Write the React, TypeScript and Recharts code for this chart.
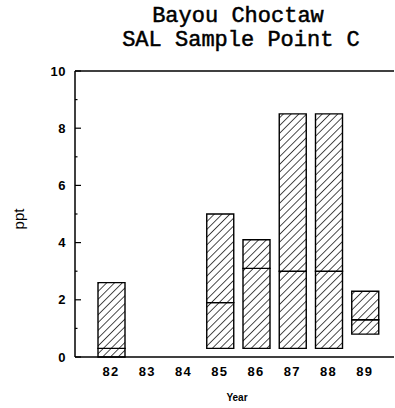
import React from 'react'
import {
  ComposedChart,
  Bar,
  XAxis,
  YAxis,
  ReferenceLine,
} from 'recharts'

// salinity range per year (ppt): minimum, mean, maximum
const years = ['82', '83', '84', '85', '86', '87', '88', '89']
const minVals = [0, null, null, 0.3, 0.3, 0.3, 0.3, 0.8]
const meanVals = [0.3, null, null, 1.9, 3.1, 3.0, 3.0, 1.3]
const maxVals = [2.6, null, null, 5.0, 4.1, 8.5, 8.5, 2.3]
const yTicks = [0, 1, 2, 3, 4, 5, 6, 7, 8, 9, 10]

const data = years.map((year, i) => {
  const lo = minVals[i]
  const mid = meanVals[i]
  const hi = maxVals[i]
  if (lo == null || mid == null || hi == null) {
    return { year, base: null, lower: null, upper: null }
  }
  return { year, base: lo, lower: mid - lo, upper: hi - mid }
})

const tickFont = '"Liberation Sans", Arial, sans-serif'
const titleFont = '"Liberation Mono", monospace'

function YTick(props: any) {
  const { x, y, payload } = props
  const major = payload.value % 2 === 0
  return (
    <g>
      <line x1={x} x2={x + (major ? 6 : 2.5)} y1={y} y2={y} stroke="#000" strokeWidth={1.2} />
      {major && (
        <text
          x={x - 9}
          y={y}
          dy="0.36em"
          textAnchor="end"
          fontFamily={tickFont}
          fontWeight="bold"
          fontSize={13}
          letterSpacing={0.5}
          fill="#000"
        >
          {payload.value}
        </text>
      )}
    </g>
  )
}

export default function App() {
  return (
    <div style={{ position: 'absolute', left: 0, top: 0, width: 395, height: 408, background: '#fff' }}>
      <svg width={0} height={0} style={{ position: 'absolute' }}>
        <defs>
          <pattern id="hatch" patternUnits="userSpaceOnUse" width={5.5} height={5.5} patternTransform="rotate(45)">
            <rect width={5.5} height={5.5} fill="#fff" />
            <line x1={0} y1={0} x2={0} y2={5.5} stroke="#000" strokeWidth={1.4} />
          </pattern>
        </defs>
      </svg>
      <svg width={395} height={408} style={{ position: 'absolute', left: 0, top: 0 }}>
        <text x={238} y={22} textAnchor="middle" fontFamily={titleFont} fontSize={22} stroke="#000" strokeWidth={0.5} fill="#000">
          Bayou Choctaw
        </text>
        <text x={241} y={46} textAnchor="middle" fontFamily={titleFont} fontSize={22} stroke="#000" strokeWidth={0.5} fill="#000">
          SAL Sample Point C
        </text>
        <text
          x={24}
          y={219}
          transform="rotate(-90 24 219)"
          textAnchor="middle"
          fontFamily={tickFont}
          fontSize={15}
          fill="#000"
        >
          ppt
        </text>
        <text x={237} y={401} textAnchor="middle" fontFamily={tickFont} fontWeight="bold" fontSize={10} fill="#000">
          Year
        </text>
      </svg>
      <div style={{ position: 'absolute', left: 0, top: 0 }}>
        <ComposedChart
          width={395}
          height={408}
          data={data}
          margin={{ top: 71, right: 1, bottom: 21, left: 0 }}
        >
          <XAxis
            dataKey="year"
            padding={{ left: 18, right: 11 }}
            height={30}
            tickLine={false}
            tickSize={0}
            tickMargin={10}
            axisLine={{ stroke: '#000', strokeWidth: 1.5 }}
            tick={{ fill: '#000', fontFamily: tickFont, fontWeight: 'bold', fontSize: 13, letterSpacing: 1.5 }}
            interval={0}
          />
          <YAxis
            domain={[0, 10]}
            ticks={yTicks}
            interval={0}
            width={75}
            tickLine={false}
            tickSize={0}
            tickMargin={0}
            axisLine={{ stroke: '#000', strokeWidth: 1.5 }}
            tick={<YTick />}
          />
          <ReferenceLine y={10} stroke="#000" strokeWidth={1.5} />
          <Bar dataKey="base" stackId="s" fill="transparent" barSize={27} isAnimationActive={false} />
          <Bar dataKey="lower" stackId="s" fill="url(#hatch)" stroke="#000" strokeWidth={1.4} barSize={27} isAnimationActive={false} />
          <Bar dataKey="upper" stackId="s" fill="url(#hatch)" stroke="#000" strokeWidth={1.4} barSize={27} isAnimationActive={false} />
        </ComposedChart>
      </div>
    </div>
  )
}
